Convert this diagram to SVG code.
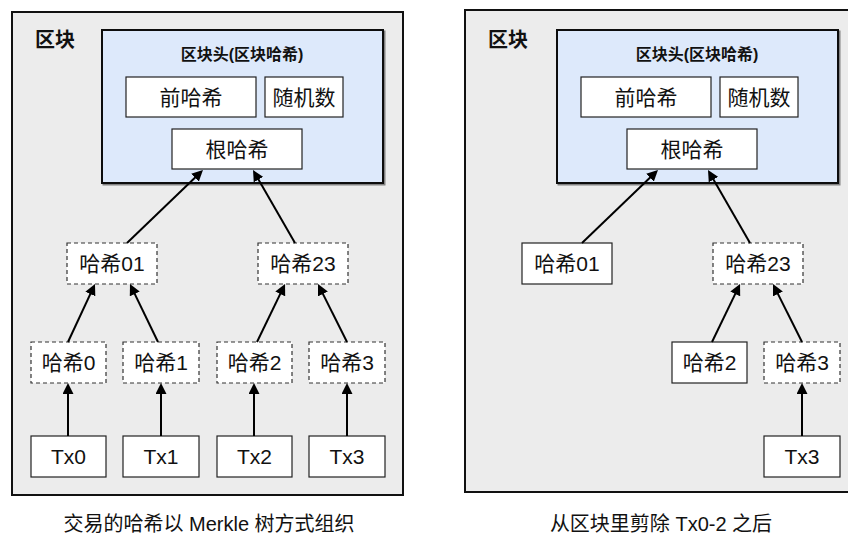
<svg xmlns="http://www.w3.org/2000/svg" width="848" height="536" viewBox="0 0 848 536">
<defs>
<marker id="arr" viewBox="0 0 10 10" refX="6.4" refY="5" markerWidth="11" markerHeight="11" markerUnits="userSpaceOnUse" orient="auto">
<path d="M0,0 L10,5 L0,10 z" fill="#000"/>
</marker>
<filter id="sh" x="-5%" y="-5%" width="110%" height="115%">
<feDropShadow dx="1.5" dy="1.5" stdDeviation="0.6" flood-color="#000" flood-opacity="0.45"/>
</filter>
</defs>
<style>
.panel{fill:#ececec;stroke:#111;stroke-width:2}
.hdr{fill:#dde9fb;stroke:#111;stroke-width:2}
.node{fill:#fff;stroke:#222;stroke-width:1.2}
.dash{fill:#fff;stroke:#333;stroke-width:1.2;stroke-dasharray:4 3}
.t{font-family:"Liberation Sans","Noto Sans CJK SC",sans-serif;font-size:21px;fill:#111;text-anchor:middle}
.b{font-family:"Liberation Sans","Noto Sans CJK SC",sans-serif;font-weight:bold;fill:#111}
.cap{font-family:"Liberation Sans","Noto Sans CJK SC",sans-serif;font-size:20px;fill:#111;text-anchor:middle}
.c{fill:none;stroke:#000;stroke-width:2;marker-end:url(#arr)}
</style>

<!-- Left panel -->
<g id="blockL">
<rect class="panel" x="12" y="12" width="391" height="483"/>
<text class="b" x="35" y="47" font-size="20">区块</text>
</g>
<g id="headerL">
<rect class="hdr" x="102" y="30" width="281" height="153" filter="url(#sh)"/>
<text class="b" x="242" y="60" font-size="16" text-anchor="middle">区块头(区块哈希)</text>
</g>
<g id="prevL"><rect class="node" x="126" y="77" width="130" height="40"/><text class="t" x="191" y="104.5">前哈希</text></g>
<g id="nonceL"><rect class="node" x="265" y="77" width="78" height="40"/><text class="t" x="304" y="104.5">随机数</text></g>
<g id="rootL"><rect class="node" x="172" y="129" width="130" height="40"/><text class="t" x="237" y="156.5">根哈希</text></g>
<g id="h01L"><rect class="dash" x="67" y="243" width="90" height="41"/><text class="t" x="112" y="271">哈希01</text></g>
<g id="h23L"><rect class="dash" x="258" y="243" width="90" height="41"/><text class="t" x="303" y="271">哈希23</text></g>
<g id="h0L"><rect class="dash" x="31" y="342" width="75" height="41"/><text class="t" x="68.5" y="370">哈希0</text></g>
<g id="h1L"><rect class="dash" x="123" y="342" width="76" height="41"/><text class="t" x="161" y="370">哈希1</text></g>
<g id="h2L"><rect class="dash" x="217" y="342" width="75" height="41"/><text class="t" x="254.5" y="370">哈希2</text></g>
<g id="h3L"><rect class="dash" x="309" y="342" width="76" height="41"/><text class="t" x="347" y="370">哈希3</text></g>
<g id="tx0L"><rect class="node" x="31" y="436" width="75" height="41"/><text class="t" x="68.5" y="464">Tx0</text></g>
<g id="tx1L"><rect class="node" x="123" y="436" width="76" height="41"/><text class="t" x="161" y="464">Tx1</text></g>
<g id="tx2L"><rect class="node" x="217" y="436" width="75" height="41"/><text class="t" x="254.5" y="464">Tx2</text></g>
<g id="tx3L"><rect class="node" x="309" y="436" width="76" height="41"/><text class="t" x="347" y="464">Tx3</text></g>

<!-- Right panel -->
<g id="blockR">
<rect class="panel" x="465" y="10" width="400" height="482"/>
<text class="b" x="488" y="47" font-size="20">区块</text>
</g>
<g id="headerR">
<rect class="hdr" x="557" y="30" width="281" height="153" filter="url(#sh)"/>
<text class="b" x="697" y="60" font-size="16" text-anchor="middle">区块头(区块哈希)</text>
</g>
<g id="prevR"><rect class="node" x="581" y="77" width="130" height="40"/><text class="t" x="646" y="104.5">前哈希</text></g>
<g id="nonceR"><rect class="node" x="720" y="77" width="78" height="40"/><text class="t" x="759" y="104.5">随机数</text></g>
<g id="rootR"><rect class="node" x="627" y="129" width="130" height="40"/><text class="t" x="692" y="156.5">根哈希</text></g>
<g id="h01R"><rect class="node" x="522" y="243" width="90" height="41"/><text class="t" x="567" y="271">哈希01</text></g>
<g id="h23R"><rect class="dash" x="713" y="243" width="90" height="41"/><text class="t" x="758" y="271">哈希23</text></g>
<g id="h2R"><rect class="node" x="672" y="342" width="75" height="41"/><text class="t" x="709.5" y="370">哈希2</text></g>
<g id="h3R"><rect class="dash" x="764" y="342" width="76" height="41"/><text class="t" x="802" y="370">哈希3</text></g>
<g id="tx3R"><rect class="node" x="764" y="436" width="76" height="41"/><text class="t" x="802" y="464">Tx3</text></g>

<!-- Connectors -->
<g id="connectors">
<path class="c" d="M127,243 L200.1,172.8"/>
<path class="c" d="M295,243 L255,173.5"/>
<path class="c" d="M68,342 L93.3,287.6"/>
<path class="c" d="M158,342 L131.7,287.6"/>
<path class="c" d="M257,342 L283.3,287.6"/>
<path class="c" d="M347,342 L319.8,287.6"/>
<path class="c" d="M68,436 L68,387"/>
<path class="c" d="M161,436 L161,387"/>
<path class="c" d="M254,436 L254,387"/>
<path class="c" d="M347,436 L347,387"/>

<path class="c" d="M582,243 L655.1,172.8"/>
<path class="c" d="M750,243 L710,173.5"/>
<path class="c" d="M712,342 L738.3,287.6"/>
<path class="c" d="M802,342 L774.8,287.6"/>
<path class="c" d="M802,436 L802,387"/>
</g>

<g id="captions">
<text class="cap" x="209" y="531" font-size="21">交易的哈希以 Merkle 树方式组织</text>
<text class="cap" x="661" y="531">从区块里剪除 Tx0-2 之后</text>
</g>
</svg>
